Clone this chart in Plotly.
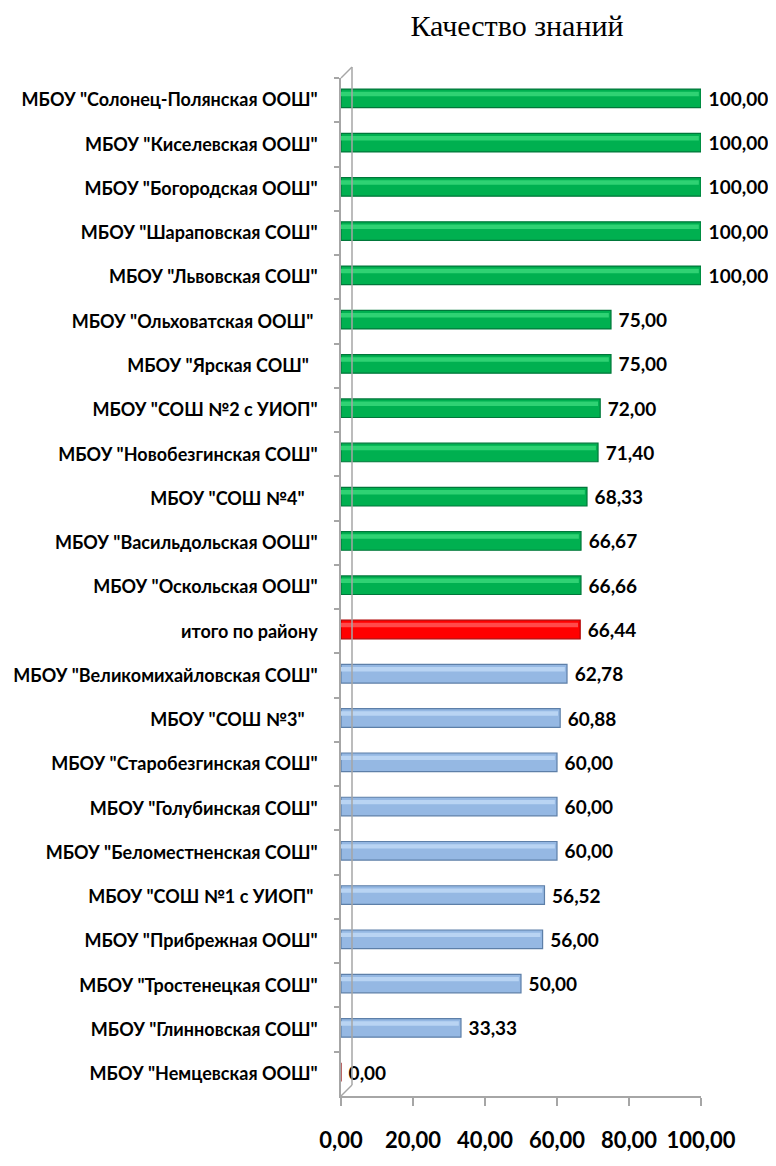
import plotly.graph_objects as go

categories = [
    'МБОУ "Солонец-Полянская ООШ"',
    'МБОУ "Киселевская ООШ"',
    'МБОУ "Богородская ООШ"',
    'МБОУ "Шараповская СОШ"',
    'МБОУ "Львовская СОШ"',
    'МБОУ "Ольховатская ООШ"\u00a0',
    'МБОУ "Ярская СОШ"\u00a0\u00a0',
    'МБОУ "СОШ №2 с УИОП"',
    'МБОУ "Новобезгинская СОШ"',
    'МБОУ "СОШ №4"\u00a0\u00a0\u00a0',
    'МБОУ "Васильдольская ООШ"',
    'МБОУ "Оскольская ООШ"',
    'итого по району',
    'МБОУ "Великомихайловская СОШ"',
    'МБОУ "СОШ №3"\u00a0\u00a0\u00a0',
    'МБОУ "Старобезгинская СОШ"',
    'МБОУ "Голубинская СОШ"',
    'МБОУ "Беломестненская СОШ"',
    'МБОУ "СОШ №1 с УИОП"\u00a0',
    'МБОУ "Прибрежная ООШ"',
    'МБОУ "Тростенецкая СОШ"',
    'МБОУ "Глинновская СОШ"',
    'МБОУ "Немцевская ООШ"',
]
values = [100.00, 100.00, 100.00, 100.00, 100.00, 75.00, 75.00, 72.00, 71.40,
          68.33, 66.67, 66.66, 66.44, 62.78, 60.88, 60.00, 60.00, 60.00,
          56.52, 56.00, 50.00, 33.33, 0.00]
groups = ["high"] * 12 + ["total"] + ["low"] * 9 + ["zero"]
x_ticks = [0, 20, 40, 60, 80, 100]

fill = {"high": "#00B050", "total": "#FF0000", "low": "#95B8E3", "zero": "#C00000"}
light = {"high": "#2FD273", "total": "#FF4A4A", "low": "#B9D4F3", "zero": "#E02020"}
edge = {"high": "#00773A", "total": "#B00000", "low": "#5D7FA8", "zero": "#8B0000"}

FONT = "Lato, Carlito, Calibri, sans-serif"

# page body has an 8px default margin; compensate so the plot lands at the right pixels
W, H = 768, 1158

fig = go.Figure()
fig.add_trace(go.Bar(
    y=categories,
    x=values,
    orientation="h",
    marker=dict(color=[fill[g] for g in groups],
                line=dict(color=[edge[g] for g in groups], width=1.2)),
    width=0.42,
    offset=-0.25,
    text=["\u00a0" + f"{v:.2f}".replace(".", ",") for v in values],
    textposition="outside",
    constraintext="none",
    textfont=dict(family=FONT, size=19, color="#000000", weight="bold"),
    cliponaxis=False,
    showlegend=False,
    hoverinfo="skip",
))
# highlight stripe for a cylindrical look
fig.add_trace(go.Bar(
    y=categories,
    x=[max(v - 0.6, 0) for v in values],
    orientation="h",
    marker=dict(color=[light[g] for g in groups], line=dict(width=0)),
    width=0.1,
    offset=-0.19,
    showlegend=False,
    hoverinfo="skip",
))

# 3D back wall outline
wx = 11 / 360
wy = 11 / 1018
line_style = dict(color="#A6A6A6", width=1.5)
fig.add_shape(type="line", xref="paper", yref="paper", x0=wx, x1=wx, y0=wy, y1=1 + wy, line=line_style)
fig.add_shape(type="line", xref="paper", yref="paper", x0=0, x1=wx, y0=0, y1=wy, line=line_style)
fig.add_shape(type="line", xref="paper", yref="paper", x0=0, x1=wx, y0=1, y1=1 + wy, line=line_style)

fig.update_layout(
    width=W, height=H,
    paper_bgcolor="white", plot_bgcolor="white",
    margin=dict(l=333, r=75, t=70, b=70),
    separators=", ",
    barmode="overlay",
    title=dict(text="Качество знаний", x=509 / W, xanchor="center", y=1 - 17 / H, yanchor="middle",
               font=dict(family="Liberation Serif, Times New Roman, serif", size=30, color="#000000")),
)
fig.update_xaxes(
    range=[0, 100], tickvals=x_ticks,
    ticktext=[f"{t:.2f}".replace(".", ",") for t in x_ticks],
    showgrid=False, zeroline=False, automargin=False,
    showline=True, linecolor="#A6A6A6", linewidth=2,
    ticks="outside", ticklen=8, tickcolor="#A6A6A6", tickwidth=2,
    ticklabelstandoff=16,
    tickfont=dict(family=FONT, size=22, color="#000000", weight="bold"),
)
fig.update_yaxes(
    autorange="reversed", type="category", automargin=False,
    showgrid=False, zeroline=False,
    showline=True, linecolor="#A6A6A6", linewidth=1.5,
    ticks="outside", ticklen=5, tickcolor="#A6A6A6", tickwidth=1.5,
    tickson="boundaries",
    ticklabelstandoff=18,
    tickfont=dict(family=FONT, size=18, color="#000000", weight="bold"),
)

fig.write_html("out.html")
